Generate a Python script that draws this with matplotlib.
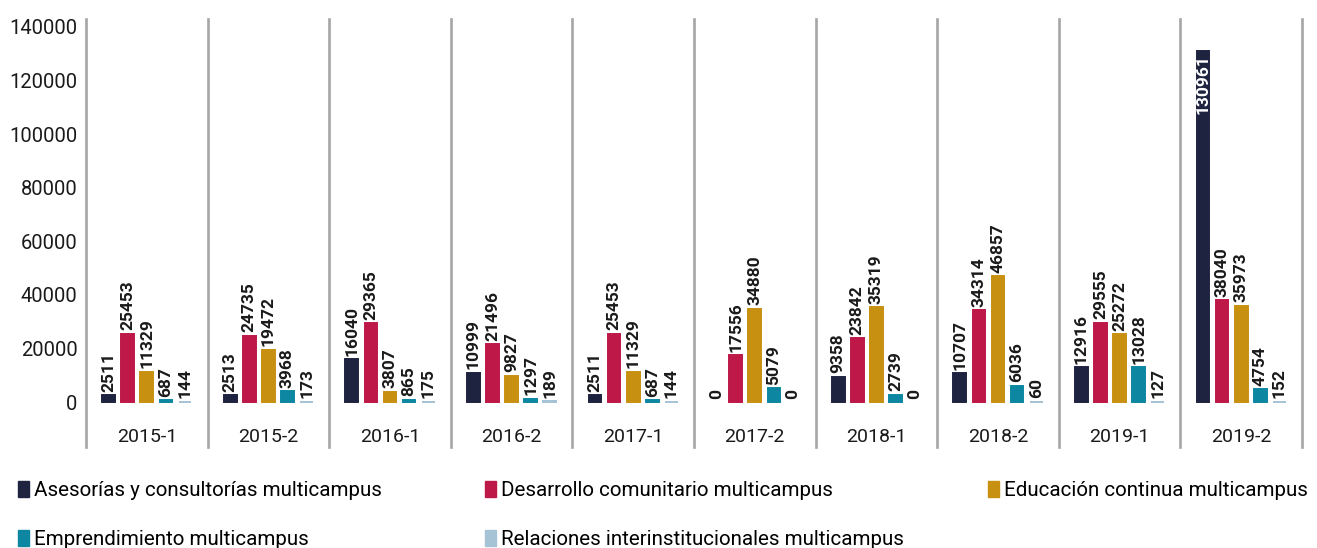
"""
grouped bar chart of activity totals per semester, five programmes per semester
"""
import numpy as np
import matplotlib
matplotlib.use("Agg")
import matplotlib.pyplot as plt
from matplotlib.patches import Patch
from matplotlib.transforms import blended_transform_factory

semesters = ["2015-1", "2015-2", "2016-1", "2016-2", "2017-1",
             "2017-2", "2018-1", "2018-2", "2019-1", "2019-2"]

series_names = [
    "Asesorías y consultorías multicampus",
    "Desarrollo comunitario multicampus",
    "Educación continua multicampus",
    "Emprendimiento multicampus",
    "Relaciones interinstitucionales multicampus",
]

asesorias = [2511, 2513, 16040, 10999, 2511, 0, 9358, 10707, 12916, 130961]
desarrollo = [25453, 24735, 29365, 21496, 25453, 17556, 23842, 34314, 29555, 38040]
educacion = [11329, 19472, 3807, 9827, 11329, 34880, 35319, 46857, 25272, 35973]
emprendimiento = [687, 3968, 865, 1297, 687, 5079, 2739, 6036, 13028, 4754]
relaciones = [144, 173, 175, 189, 144, 0, 0, 60, 127, 152]

colors = ["#1e2340", "#bd1847", "#c79010", "#0d87a1", "#a5c3d5"]

plt.rcParams["font.family"] = ["Roboto", "DejaVu Sans"]

fig = plt.figure(figsize=(13.17, 5.48), dpi=100)
# axes runs from the top of the group separators down to the bottom of the label boxes
ax = fig.add_axes([86 / 1317, 1 - 447 / 548, (1302 - 86) / 1317, (447 - 19) / 548])

y_top = 140000 * (402 - 19) / 375
y_bot = -140000 * (447 - 402) / 375
ax.set_ylim(y_bot, y_top)
ax.set_xlim(-0.5, len(semesters) - 0.5)

index = np.arange(len(semesters))
width = 0.105
step = 0.157
all_series = [asesorias, desarrollo, educacion, emprendimiento, relaciones]

for k, (vals, col) in enumerate(zip(all_series, colors)):
    xs = index + (k - 2) * step
    # edge in the bar colour so tiny values still show as a sliver; none for zeros
    lws = [1.4 if v > 0 else 0 for v in vals]
    ax.bar(xs, vals, width, color=col, edgecolor=col, linewidth=lws, zorder=3)
    for x, v in zip(xs, vals):
        if v > 120000:
            # too tall for a label on top, write it inside the bar
            ax.annotate(str(v), (x, v), xytext=(0, -2), textcoords="offset points",
                        ha="center", va="top", rotation=90, color="white",
                        fontsize=12.5, fontweight="bold")
        else:
            ax.annotate(str(v), (x, v), xytext=(0, 2.5), textcoords="offset points",
                        ha="center", va="bottom", rotation=90, color="#1a1a1a",
                        fontsize=12.5, fontweight="bold")

# vertical separators between semesters
for b in np.arange(-0.5, len(semesters), 1.0):
    ax.axvline(b, color="#a6a6a6", lw=1.9, zorder=1, clip_on=False)

# semester names inside the boxes under the bars
trans = blended_transform_factory(ax.transData, ax.transData)
label_y = -140000 * (437 - 402) / 375
for i, s in enumerate(semesters):
    ax.text(i, label_y, s, ha="center", va="center", fontsize=14, color="#1a1a1a",
            transform=trans)

ax.set_yticks(np.arange(0, 140001, 20000))
ax.set_yticklabels([str(t) for t in range(0, 140001, 20000)])
ax.set_xticks([])
ax.tick_params(axis="y", length=0, pad=6, labelsize=14.5, labelcolor="#1a1a1a")
for sp in ax.spines.values():
    sp.set_visible(False)

# legend: three columns, each its own legend so the columns sit where wanted
handles = [Patch(color=c) for c in colors]
columns = [([0, 3], 18), ([1, 4], 485), ([2], 988)]
for idx, x_px in columns:
    leg = fig.legend([handles[i] for i in idx], [series_names[i] for i in idx],
                     loc="upper left", bbox_to_anchor=(x_px / 1317, 1 - 481 / 548),
                     frameon=False, fontsize=14.8, handlelength=0.55, handleheight=0.85,
                     handletextpad=0.25, labelspacing=1.42, borderaxespad=0, borderpad=0)

plt.savefig("out.png", dpi=100)
